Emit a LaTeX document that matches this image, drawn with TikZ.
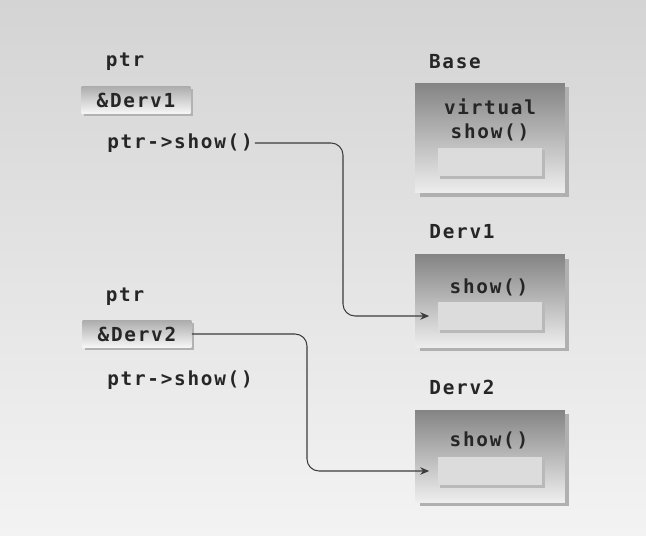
\documentclass[tikz,border=0pt]{standalone}
\usepackage{fontspec}
\newfontfamily\codefont{DejaVu Sans Mono Bold}[LetterSpace=9]
\usetikzlibrary{arrows.meta,shadows}
\definecolor{bgtop}{RGB}{212,212,212}
\definecolor{bgbot}{RGB}{243,243,243}
\definecolor{boxtop}{RGB}{132,132,132}
\definecolor{boxbot}{RGB}{238,238,238}
\definecolor{slotfill}{RGB}{220,220,220}
\definecolor{wire}{RGB}{60,60,60}
\tikzset{
  code/.style={font=\codefont\fontsize{11}{13.6}\selectfont, text=black!85, inner sep=1pt},
  classbox/.style={minimum width=3cm, top color=boxtop, bottom color=boxbot,
    general shadow={fill=gray!62, shadow xshift=0.9mm, shadow yshift=-0.8mm}},
  slot/.style={minimum width=2.1cm, minimum height=0.57cm, fill=slotfill,
    general shadow={fill=gray!55, shadow xshift=0.5mm, shadow yshift=-0.5mm}},
  ptrbox/.style={code, minimum width=2.18cm, minimum height=0.55cm, top color=gray!65, bottom color=gray!6,
    general shadow={fill=gray!60, shadow xshift=0.5mm, shadow yshift=-0.5mm}},
  conn/.style={->, draw=wire, line width=0.6pt, rounded corners=2.4mm, shorten >=1.6mm}
}
\begin{document}
\begin{tikzpicture}[x=0.02cm, y=-0.02cm, >={Stealth[length=1.8mm,width=1.5mm]}]
\fill[top color=bgtop, bottom color=bgbot] (0,0) rectangle (646,535);
% pointer side
\node[code] (ptr1) at (125,62) {ptr};
\node[ptrbox] (pbox1) at (136,100) {\&Derv1};
\node[code] (call1) at (180,143) {ptr->show()};
\node[code] (ptr2) at (125,297) {ptr};
\node[ptrbox] (pbox2) at (137,334) {\&Derv2};
\node[code] (call2) at (180,380) {ptr->show()};
% classes
\node[code] (lbase) at (455,62) {Base};
\node[classbox, minimum height=2.2cm] (base) at (490,138) {};
\node[code, align=center] (vshow) at (490,120) {virtual\\show()};
\node[slot] (slot0) at (490,162) {};
\node[code] (lderv1) at (462,232) {Derv1};
\node[classbox, minimum height=1.86cm] (derv1) at (490,301) {};
\node[code] (show1) at (489,287) {show()};
\node[slot] (slot1) at (490,316) {};
\node[code] (lderv2) at (462,387) {Derv2};
\node[classbox, minimum height=1.84cm] (derv2) at (490,456) {};
\node[code] (show2) at (489,440) {show()};
\node[slot] (slot2) at (490,471) {};
% calls
\coordinate (bend1) at (343,316);
\coordinate (bend2) at (307,471);
\draw[conn] (call1.east) -| (bend1) -- (slot1.west);
\draw[conn] (pbox2.east) -| (bend2) -- (slot2.west);
\end{tikzpicture}
\end{document}
